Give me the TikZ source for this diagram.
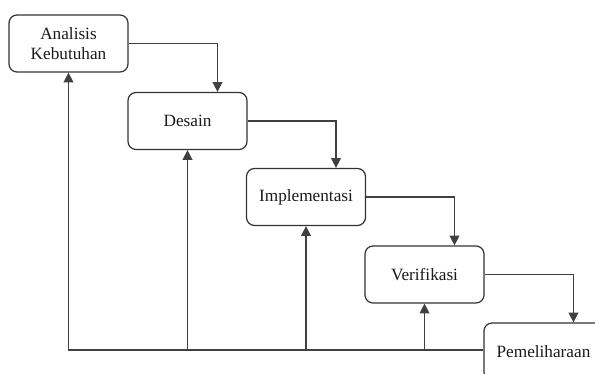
\documentclass[tikz,border=0pt]{standalone}
\usepackage{fontspec}
\setmainfont{Liberation Serif}
\usetikzlibrary{arrows.meta}

\begin{document}
\begin{tikzpicture}[x=0.02cm,y=-0.02cm,
    stage/.style={draw=black!80, rectangle, rounded corners=0.16cm, line width=0.7pt,
      minimum width=2.38cm, minimum height=1.14cm, align=center,
      font=\fontsize{9.8}{11.5}\selectfont, text=black!90},
    flow/.style={-{Triangle[length=5.5pt,width=5.5pt]}, line width=0.8pt, black!75}]
    \clip (0,0) rectangle (595,374);
    \useasboundingbox (0,0) rectangle (595,374);
    \node[stage] (ana) at (68.5,43.5) {Analisis\\Kebutuhan};
    \node[stage] (des) at (187.5,121) {Desain};
    \node[stage] (imp) at (306,197) {Implementasi};
    \node[stage] (ver) at (424.5,274.5) {Verifikasi};
    \node[stage] (pem) at (543.5,351.5) {Pemeliharaan};
    \coordinate (base) at ([yshift=0.03cm]pem.west);
    % alur turun
    \draw[flow] (ana.east) -| ([xshift=0.6cm]des.north);
    \draw[flow] (des.east) -| ([xshift=0.6cm]imp.north);
    \draw[flow] (imp.east) -| ([xshift=0.6cm]ver.north);
    \draw[flow] (ver.east) -| ([xshift=0.6cm]pem.north);
    % umpan balik
    \draw[flow] (base) -| (ana.south);
    \draw[flow] (des.south |- base) -- (des.south);
    \draw[flow] (imp.south |- base) -- (imp.south);
    \draw[flow] (ver.south |- base) -- (ver.south);
\end{tikzpicture}
\end{document}
